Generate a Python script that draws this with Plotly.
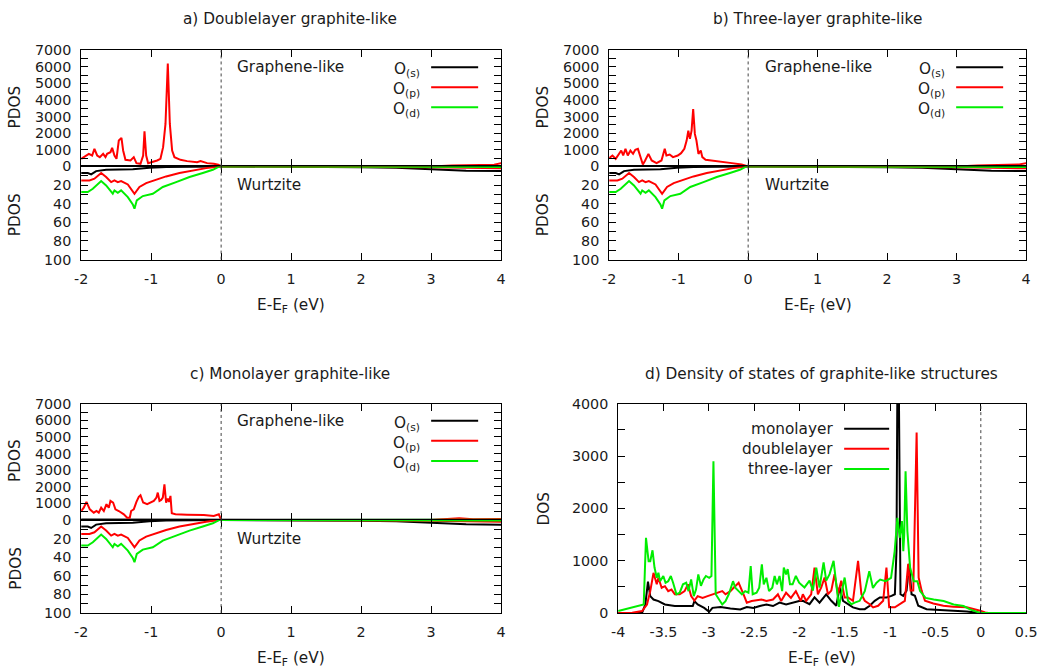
import plotly.graph_objects as go

# The captured page shows the figure offset by the body margin and slightly scaled;
# window-pixel targets are mapped through that measured transform.
M = 8
SX, SY = 0.983, 0.975
W, H = 1060, 680
FONT = "DejaVu Sans"
FS = 15.3
TFS = 14.3
TXT = "#1a1a1a"
BLACK, RED, GREEN = "#000000", "#ff0000", "#00ee00"

# ---------------- data ----------------
# Wurtzite PDOS (shared by panels a, b, c), plotted downward
wz_s_x = [-2.0, -1.905, -1.857, -1.786, -1.643, -1.452, -1.262, -1.024, -0.786, 0.0, 1.6, 2.0, 2.5, 3.0, 3.5, 4.0]
wz_s_y = [7.1, 7.1, 8.6, 5.0, 3.6, 3.6, 2.9, 1.4, 0.7, 0.0, 0.0, 0.8, 1.5, 3.0, 4.5, 5.0]
wz_p_x = [-2.0, -1.881, -1.81, -1.714, -1.643, -1.571, -1.524, -1.476, -1.429, -1.333, -1.238, -1.167,
          -1.071, -0.929, -0.786, -0.595, -0.405, -0.214, -0.024, 2.5, 3.0, 3.5, 4.0]
wz_p_y = [15.0, 15.0, 13.2, 7.1, 11.4, 16.8, 15.0, 16.8, 15.7, 19.3, 29.3, 22.0,
          17.9, 14.3, 10.7, 7.1, 4.3, 1.8, 0.0, 0.0, 0.8, 1.5, 2.0]
wz_d_x = [-2.0, -1.905, -1.833, -1.714, -1.643, -1.548, -1.524, -1.476, -1.429, -1.333, -1.262, -1.238,
          -1.205, -1.119, -0.976, -0.833, -0.643, -0.452, -0.262, -0.119, -0.024, 3.0, 4.0]
wz_d_y = [27.5, 27.5, 24.0, 15.7, 20.4, 29.3, 25.7, 28.2, 25.7, 32.9, 40.7, 45.4,
          36.4, 31.8, 29.3, 22.1, 16.8, 11.4, 7.1, 3.6, 0.0, 0.0, 0.5]

# Graphene-like O(s) and O(d) (nearly zero)
gr_s_x = [-2.0, -1.5, -1.0, -0.5, 0.0, 1.0, 2.0, 3.0, 4.0]
gr_s_y = [30, 25, 20, 10, 0, 0, 0, 10, 20]
gr_d_x = [-2.0, -1.0, 0.0, 1.0, 2.0, 3.0, 4.0]
gr_d_y = [0, 0, 0, 0, 0, 0, 10]

# a) Doublelayer: graphene-like O(p)
a_p_x = [-2.0, -1.962, -1.89, -1.843, -1.81, -1.771, -1.733, -1.686, -1.652, -1.629, -1.581, -1.557,
         -1.524, -1.495, -1.462, -1.424, -1.4, -1.367, -1.295, -1.248, -1.21, -1.152, -1.114, -1.095,
         -1.071, -1.043, -0.986, -0.914, -0.867, -0.829, -0.795, -0.762, -0.733, -0.7, -0.667, -0.581,
         -0.486, -0.343, -0.295, -0.2, -0.105, -0.04, 0.0, 1.0, 2.0, 3.0, 3.3, 3.6, 3.9, 4.0]
a_p_y = [460, 560, 760, 660, 1060, 660, 560, 760, 560, 760, 860, 1120,
         660, 460, 1560, 1720, 960, 400, 360, 560, 200, 160, 660, 2120,
         660, 200, 260, 360, 460, 1160, 2560, 6200, 2560, 960, 560, 400,
         320, 260, 320, 200, 160, 100, 0, 0, 0, 0, 60, 80, 100, 200]

# b) Three-layer: graphene-like O(p)
b_p_x = [-2.0, -1.986, -1.953, -1.906, -1.859, -1.826, -1.798, -1.765, -1.732, -1.694, -1.656, -1.624,
         -1.586, -1.553, -1.515, -1.482, -1.435, -1.388, -1.318, -1.247, -1.224, -1.2, -1.176, -1.129,
         -1.082, -1.012, -0.965, -0.918, -0.885, -0.861, -0.838, -0.814, -0.791, -0.767, -0.744, -0.715,
         -0.682, -0.659, -0.612, -0.518, -0.376, -0.235, -0.094, 0.0, 1.0, 2.0, 3.0, 3.3, 3.6, 3.9, 4.0]
b_p_y = [500, 560, 660, 460, 760, 960, 660, 1060, 660, 960, 760, 1000,
         1060, 660, 120, 360, 760, 360, 200, 360, 660, 1060, 660, 720,
         560, 660, 800, 1060, 1560, 2160, 1660, 2160, 3460, 1960, 1560, 760,
         960, 560, 400, 360, 280, 200, 120, 0, 0, 0, 0, 60, 80, 120, 200]

# c) Monolayer: graphene-like O(p)
c_p_x = [-2.0, -1.962, -1.924, -1.876, -1.819, -1.781, -1.748, -1.714, -1.676, -1.638, -1.605, -1.581,
         -1.543, -1.51, -1.462, -1.39, -1.343, -1.305, -1.286, -1.248, -1.21, -1.176, -1.152, -1.114,
         -1.057, -1.01, -0.962, -0.924, -0.905, -0.881, -0.857, -0.833, -0.81, -0.786, -0.762, -0.743,
         -0.724, -0.705, -0.652, -0.486, -0.248, -0.105, -0.033, 0.0, 1.0, 2.0, 3.0, 3.4, 3.6, 4.0]
c_p_y = [540, 740, 1090, 640, 440, 540, 440, 740, 540, 950, 740, 1150,
         1050, 640, 540, 340, 140, 140, 540, 640, 1090, 1390, 1490, 1050,
         950, 1050, 1150, 1350, 1650, 1150, 1210, 1350, 2150, 1050, 1290, 1090,
         1450, 400, 340, 320, 300, 240, 340, 0, 0, 0, 0, 100, 40, 60]

# d) DOS
mono_x = [-4.0, -3.736, -3.7, -3.671, -3.646, -3.61, -3.556, -3.484, -3.375, -3.267, -3.177, -3.159,
          -3.123, -3.051, -2.996, -2.96, -2.87, -2.762, -2.653, -2.581, -2.509, -2.437, -2.365, -2.292,
          -2.22, -2.148, -2.076, -2.004, -1.963, -1.889, -1.834, -1.779, -1.705, -1.649, -1.594, -1.557,
          -1.52, -1.465, -1.41, -1.336, -1.28, -1.225, -1.17, -1.114, -1.041, -0.985, -0.948, -0.93,
          -0.92, -0.905, -0.895, -0.886, -0.856, -0.819, -0.79, -0.764, -0.727, -0.69, -0.598, -0.45,
          -0.303, -0.155, -0.007, 0.5]
mono_y = [0, 5, 165, 600, 325, 260, 230, 165, 135, 135, 135, 230,
          165, 100, 25, 100, 115, 90, 70, 115, 100, 135, 165, 135,
          200, 165, 200, 230, 235, 170, 300, 200, 360, 235, 140, 490,
          235, 170, 110, 75, 75, 140, 235, 300, 300, 330, 360, 1200,
          4500, 4500, 1000, 360, 330, 430, 940, 360, 330, 140, 75, 55,
          45, 30, 0, 0]

double_x = [-4.0, -3.845, -3.736, -3.682, -3.646, -3.61, -3.574, -3.556, -3.52, -3.484, -3.448, -3.412,
            -3.375, -3.321, -3.267, -3.231, -3.195, -3.159, -3.123, -3.069, -3.014, -2.96, -2.906, -2.852,
            -2.816, -2.762, -2.726, -2.671, -2.617, -2.581, -2.527, -2.473, -2.419, -2.365, -2.292, -2.238,
            -2.202, -2.148, -2.094, -2.04, -1.986, -1.963, -1.926, -1.871, -1.834, -1.797, -1.76, -1.723,
            -1.686, -1.649, -1.613, -1.576, -1.539, -1.502, -1.465, -1.41, -1.354, -1.317, -1.28, -1.225,
            -1.188, -1.133, -1.077, -1.041, -1.011, -0.948, -0.893, -0.838, -0.801, -0.775, -0.745, -0.708,
            -0.686, -0.653, -0.616, -0.524, -0.413, -0.303, -0.155, -0.063, -0.007, 0.048, 0.103, 0.5]
double_y = [0, 5, 40, 165, 420, 770, 550, 675, 485, 515, 420, 450,
            360, 360, 420, 550, 325, 240, 325, 290, 325, 360, 390, 420,
            360, 420, 485, 580, 360, 200, 230, 240, 260, 230, 260, 360,
            230, 390, 290, 420, 230, 360, 235, 360, 870, 360, 490, 680,
            360, 430, 745, 360, 620, 300, 300, 235, 1000, 360, 235, 170,
            110, 140, 235, 870, 110, 110, 170, 235, 940, 430, 430, 3450,
            680, 430, 235, 185, 140, 120, 110, 75, 45, 13, 0, 0]

three_x = [-4.0, -3.881, -3.773, -3.718, -3.693, -3.664, -3.646, -3.621, -3.599, -3.574, -3.556, -3.538,
           -3.502, -3.477, -3.448, -3.419, -3.394, -3.357, -3.321, -3.285, -3.249, -3.224, -3.195, -3.166,
           -3.141, -3.116, -3.087, -3.058, -3.032, -2.996, -2.971, -2.949, -2.924, -2.888, -2.852, -2.816,
           -2.78, -2.733, -2.708, -2.671, -2.635, -2.599, -2.563, -2.538, -2.516, -2.473, -2.444, -2.415,
           -2.394, -2.365, -2.336, -2.3, -2.274, -2.249, -2.22, -2.191, -2.173, -2.148, -2.13, -2.105,
           -2.076, -2.04, -2.004, -1.945, -1.889, -1.852, -1.815, -1.779, -1.734, -1.705, -1.668, -1.624,
           -1.594, -1.565, -1.539, -1.502, -1.465, -1.428, -1.391, -1.336, -1.28, -1.23, -1.19, -1.15,
           -1.11, -1.05, -0.99, -0.95, -0.92, -0.895, -0.87, -0.855, -0.845, -0.83, -0.81, -0.78,
           -0.74, -0.7, -0.67, -0.61, -0.52, -0.41, -0.3, -0.19, -0.12, -0.04, 0.0, 0.5]
three_y = [40, 90, 130, 165, 1440, 990, 990, 1200, 870, 675, 770, 610,
           710, 580, 610, 710, 580, 360, 390, 550, 580, 420, 645, 325,
           450, 740, 520, 645, 710, 675, 710, 2900, 360, 260, 165, 230,
           360, 610, 485, 420, 360, 420, 390, 900, 360, 390, 485, 930,
           550, 675, 420, 485, 710, 550, 710, 420, 870, 740, 840, 550,
           550, 710, 580, 490, 620, 430, 870, 490, 970, 620, 745, 1000,
           490, 120, 360, 680, 235, 170, 200, 235, 420, 800, 480, 580,
           640, 610, 675, 1185, 1820, 1440, 1760, 1185, 1500, 2710, 1570, 870,
           610, 610, 420, 290, 260, 230, 165, 135, 70, 25, 0, 0]

pdos_top_ticks = [0, 500, 1000, 1500, 2000, 2500, 3000, 3500, 4000, 4500, 5000, 5500, 6000, 6500, 7000]
pdos_bot_ticks = [10, 20, 30, 40, 50, 60, 70, 80, 90, 100]
pdos_x_ticks = [-2, -1, 0, 1, 2, 3, 4]
dos_x_ticks = [-4, -3.5, -3, -2.5, -2, -1.5, -1, -0.5, 0, 0.5]
dos_y_ticks = [0, 500, 1000, 1500, 2000, 2500, 3000, 3500, 4000]

# ---------------- helpers (target window pixels -> paper) ----------------
def px(x):
    return (x / SX - M) / W

def py(y):
    return 1 - (y / SY - M) / H

tickfont = dict(family=FONT, size=TFS, color=TXT)

def label_every(vals, step):
    out = []
    for v in vals:
        out.append(str(int(v)) if abs(v / step - round(v / step)) < 1e-9 else "")
    return out

def xaxis(dom, anchor, rng, tickvals, ticktext, show):
    return dict(domain=dom, anchor=anchor, range=rng, tickvals=tickvals, ticktext=ticktext,
                showticklabels=show, ticks="inside", ticklen=7, tickwidth=1, tickcolor="black",
                showline=True, linecolor="black", linewidth=1, mirror="ticks", showgrid=False,
                zeroline=False, tickfont=tickfont, ticklabelstandoff=6)

def yaxis(dom, anchor, rng, tickvals, ticktext):
    return dict(domain=dom, anchor=anchor, range=rng, tickvals=tickvals, ticktext=ticktext,
                ticks="inside", ticklen=7, tickwidth=1, tickcolor="black",
                showline=True, linecolor="black", linewidth=1, mirror="ticks", showgrid=False,
                zeroline=False, tickfont=tickfont, ticklabelstandoff=6)

fig = go.Figure()

def line(x, y, color, xa, ya, width=2):
    fig.add_trace(go.Scatter(x=x, y=y, mode="lines", line=dict(color=color, width=width),
                             xaxis=xa, yaxis=ya, showlegend=False, hoverinfo="skip"))

# panel geometry in window px: left, right, top, zero, bottom
panels = {
    "a": dict(l=82, r=502, t=50, z=166, b=259, xt="x", yt="y", xb="x2", yb="y2", p=a_p_x, pv=a_p_y),
    "b": dict(l=610, r=1027, t=50, z=166, b=259, xt="x3", yt="y3", xb="x4", yb="y4", p=b_p_x, pv=b_p_y),
    "c": dict(l=82, r=502, t=403, z=519, b=612, xt="x5", yt="y5", xb="x6", yb="y6", p=c_p_x, pv=c_p_y),
}

layout_axes = {}
shapes = []
annotations = []

def ann(text, x, y, xanchor="center", yanchor="middle", size=FS, angle=0):
    annotations.append(dict(text=text, x=px(x), y=py(y), xref="paper", yref="paper",
                            xanchor=xanchor, yanchor=yanchor, showarrow=False, textangle=angle,
                            font=dict(family=FONT, size=size, color=TXT)))

def name(a):
    return a.replace("x", "xaxis").replace("y", "yaxis")

for key, P in panels.items():
    xd = [px(P["l"]), px(P["r"])]
    top_dom = [py(P["z"]), py(P["t"])]
    bot_dom = [py(P["b"]), py(P["z"])]
    layout_axes[name(P["xt"])] = xaxis(xd, P["yt"], [-2, 4], pdos_x_ticks, None, False)
    layout_axes[name(P["xb"])] = xaxis(xd, P["yb"], [-2, 4], pdos_x_ticks, [str(v) for v in pdos_x_ticks], True)
    layout_axes[name(P["yt"])] = yaxis(top_dom, P["xt"], [0, 7000], pdos_top_ticks, label_every(pdos_top_ticks, 1000))
    layout_axes[name(P["yb"])] = yaxis(bot_dom, P["xb"], [100, 0], pdos_bot_ticks, label_every(pdos_bot_ticks, 20))

    # wurtzite (bottom)
    line(wz_s_x, wz_s_y, BLACK, P["xb"], P["yb"])
    line(wz_p_x, wz_p_y, RED, P["xb"], P["yb"])
    line(wz_d_x, wz_d_y, GREEN, P["xb"], P["yb"])
    # graphene-like (top)
    line(gr_s_x, gr_s_y, BLACK, P["xt"], P["yt"])
    line(P["p"], P["pv"], RED, P["xt"], P["yt"])
    line(gr_d_x, gr_d_y, GREEN, P["xt"], P["yt"])

    # dotted Fermi level
    for xa, ya in ((P["xt"], P["yt"]), (P["xb"], P["yb"])):
        shapes.append(dict(type="line", xref=xa, yref=ya + " domain", x0=0, x1=0, y0=0, y1=1,
                           line=dict(color="#444444", width=1, dash="dot"), layer="above"))

    cx = (P["l"] + P["r"]) / 2
    ann("E-E<sub>F</sub> (eV)", cx, P["b"] + 46)
    ann("PDOS", P["l"] - 66, (P["t"] + P["z"]) / 2 - 1, angle=-90)
    ann("PDOS", P["l"] - 66, (P["z"] + P["b"]) / 2 + 2, angle=-90)
    ann("Graphene-like", P["l"] + 154, P["t"] + 17, xanchor="left")
    ann("Wurtzite", P["l"] + 154, P["z"] + 19, xanchor="left")

    # legend
    for i, (lab, col) in enumerate((("O<sub>(s)</sub>", BLACK), ("O<sub>(p)</sub>", RED), ("O<sub>(d)</sub>", GREEN))):
        yy = P["t"] + 17 + 20 * i
        ann(lab, P["r"] - 79, yy + 3, xanchor="right")
        shapes.append(dict(type="line", xref="paper", yref="paper", x0=px(P["r"] - 70), x1=px(P["r"] - 23),
                           y0=py(yy), y1=py(yy), line=dict(color=col, width=2)))

ann("a) Doublelayer graphite-like", 291, 19)
ann("b) Three-layer graphite-like", 818, 19)
ann("c) Monolayer graphite-like", 291, 373)
ann("d) Density of states of graphite-like structures", 822, 373)

# panel d
dl, dr, dt, db = 619, 1027, 403, 612
layout_axes["xaxis7"] = xaxis([px(dl), px(dr)], "y7", [-4, 0.5], dos_x_ticks,
                              [("%g" % v) for v in dos_x_ticks], True)
layout_axes["yaxis7"] = yaxis([py(db), py(dt)], "x7", [0, 4000], dos_y_ticks, label_every(dos_y_ticks, 1000))
line(mono_x, mono_y, BLACK, "x7", "y7")
line(double_x, double_y, RED, "x7", "y7")
line(three_x, three_y, GREEN, "x7", "y7")
shapes.append(dict(type="line", xref="x7", yref="y7 domain", x0=0, x1=0, y0=0, y1=1,
                   line=dict(color="#444444", width=1, dash="dot"), layer="above"))
ann("E-E<sub>F</sub> (eV)", (dl + dr) / 2, db + 46)
ann("DOS", 545, (dt + db) / 2, angle=-90)
for i, (lab, col) in enumerate((("monolayer", BLACK), ("doublelayer", RED), ("three-layer", GREEN))):
    yy = 428 + 20 * i
    ann(lab, 836, yy, xanchor="right")
    shapes.append(dict(type="line", xref="paper", yref="paper", x0=px(845), x1=px(890),
                       y0=py(yy), y1=py(yy), line=dict(color=col, width=2)))

fig.update_layout(width=W, height=H, margin=dict(l=0, r=0, t=0, b=0),
                  paper_bgcolor="white", plot_bgcolor="white", showlegend=False,
                  shapes=shapes, annotations=annotations, font=dict(family=FONT, size=FS, color=TXT),
                  **layout_axes)

fig.write_html("out.html")
